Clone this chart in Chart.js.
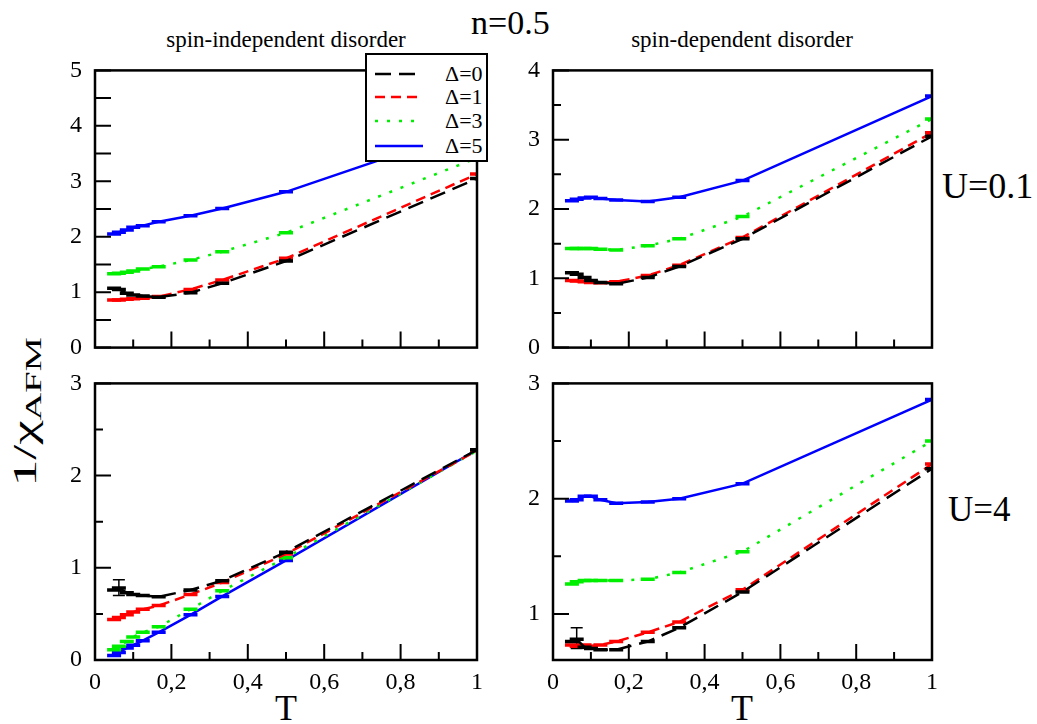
<!DOCTYPE html>
<html>
<head>
<meta charset="utf-8">
<script src="https://cdn.jsdelivr.net/npm/chart.js@4.4.1/dist/chart.umd.min.js"></script>
<style>
  body{margin:0;background:#fff;}
  #wrap{position:relative;width:1037px;height:724px;overflow:hidden;background:#fff;
        font-family:"Liberation Serif","DejaVu Serif",serif;color:#000;}
  canvas{position:absolute;}
  .txt{position:absolute;white-space:nowrap;line-height:1;}
  .ctr{text-align:center;width:400px;}
  #legend{position:absolute;left:365px;top:53px;width:119px;height:105px;border:2px solid #000;background:#fff;z-index:5;}
  #legend .row{position:absolute;left:0;height:22px;width:119px;}
  #legend svg{position:absolute;left:8px;top:0;}
  #legend span{position:absolute;left:78px;top:0;font-size:22px;line-height:22px;}
  #ytitle{position:absolute;left:26px;top:412px;font-size:34px;line-height:1;white-space:nowrap;
          transform:translate(-50%,-50%) rotate(-90deg) scaleX(1.6);}
  #ytitle sub{font-size:24px;vertical-align:-5px;}
</style>
</head>
<body>
<div id="wrap">
  <div class="txt" style="left:471px;top:6px;font-size:34px;">n=0.5</div>
  <div class="txt ctr" style="left:86px;top:28px;font-size:23px;">spin-independent disorder</div>
  <div class="txt ctr" style="left:542px;top:28px;font-size:23px;">spin-dependent disorder</div>
  <div class="txt" style="left:942px;top:168px;font-size:36px;">U=0.1</div>
  <div class="txt" style="left:948px;top:492px;font-size:35px;">U=4</div>
  <div class="txt ctr" style="left:86px;top:690px;font-size:36px;">T</div>
  <div class="txt ctr" style="left:542px;top:690px;font-size:36px;">T</div>
  <div id="ytitle">1/χ<sub>AFM</sub></div>
  <div id="legend"></div>
  <canvas id="cTL"></canvas>
  <canvas id="cTR"></canvas>
  <canvas id="cBL"></canvas>
  <canvas id="cBR"></canvas>
</div>
<script>
/* ---------- data ---------- */
const T = [0.05, 0.0625, 0.0833, 0.1, 0.125, 0.1667, 0.25, 0.333, 0.5, 1.0];

// spin-independent disorder, U=0.1
const siU01_d0 = [1.07, 1.05, 0.98, 0.95, 0.93, 0.91, 0.99, 1.16, 1.56, 3.05];
const siU01_d1 = [0.86, 0.86, 0.87, 0.88, 0.89, 0.92, 1.05, 1.22, 1.61, 3.13];
const siU01_d3 = [1.33, 1.34, 1.36, 1.38, 1.42, 1.46, 1.58, 1.73, 2.07, 3.42];
const siU01_d5 = [2.05, 2.08, 2.12, 2.17, 2.20, 2.27, 2.38, 2.51, 2.81, 3.98];

// spin-dependent disorder, U=0.1
const sdU01_d0 = [1.08, 1.06, 1.01, 0.97, 0.94, 0.92, 1.01, 1.17, 1.57, 3.05];
const sdU01_d1 = [0.97, 0.96, 0.95, 0.94, 0.935, 0.95, 1.04, 1.19, 1.59, 3.10];
const sdU01_d3 = [1.43, 1.43, 1.43, 1.43, 1.42, 1.41, 1.47, 1.57, 1.89, 3.30];
const sdU01_d5 = [2.12, 2.14, 2.16, 2.17, 2.15, 2.13, 2.11, 2.17, 2.41, 3.63];

// spin-independent disorder, U=4
const siU4_d0 = [0.76, 0.78, 0.73, 0.71, 0.70, 0.685, 0.76, 0.86, 1.17, 2.28];
const siU4_d1 = [0.44, 0.46, 0.49, 0.52, 0.55, 0.59, 0.71, 0.84, 1.15, 2.27];
const siU4_d3 = [0.11, 0.15, 0.20, 0.25, 0.30, 0.36, 0.55, 0.75, 1.11, 2.27];
const siU4_d5 = [0.05, 0.08, 0.13, 0.16, 0.21, 0.30, 0.49, 0.69, 1.08, 2.28];

// spin-dependent disorder, U=4
const sdU4_d0 = [0.76, 0.78, 0.71, 0.70, 0.69, 0.69, 0.76, 0.88, 1.19, 2.26];
const sdU4_d1 = [0.73, 0.72, 0.73, 0.72, 0.73, 0.76, 0.84, 0.93, 1.21, 2.30];
const sdU4_d3 = [1.26, 1.28, 1.29, 1.29, 1.29, 1.29, 1.30, 1.36, 1.54, 2.50];
const sdU4_d5 = [1.98, 1.99, 2.02, 2.02, 1.99, 1.96, 1.97, 2.00, 2.13, 2.86];

// the one visible error bar per U=4 panel (Δ=0, T=1/16): [low, high]
const errBL = [0.70, 0.87];
const errBR = [0.70, 0.88];

const legendLabels = ['Δ=0', 'Δ=1', 'Δ=3', 'Δ=5'];

const xMajor = [0, 0.2, 0.4, 0.6, 0.8, 1];
const xMinor = [0.1, 0.3, 0.5, 0.7, 0.9];
const xTickLabels = ['0', '0,2', '0,4', '0,6', '0,8', '1'];

/* ---------- styles ---------- */
const FONT = '"Liberation Serif", "DejaVu Serif", serif';
const colors = ['#000000', '#ff0000', '#00ee00', '#0000ff'];
const dashes = [[16, 8], [10, 6], [3, 9], []];

/* ---------- legend (html) ---------- */
const rowTops = [8, 31, 55, 80];
const lg = document.getElementById('legend');
legendLabels.forEach((lab, i) => {
  const row = document.createElement('div');
  row.className = 'row';
  row.style.top = rowTops[i] + 'px';
  row.innerHTML = `<svg width="50" height="22"><line x1="0" y1="11" x2="48" y2="11" stroke="${colors[i]}"
     stroke-width="2.6" stroke-dasharray="${dashes[i].join(' ')}"/></svg><span>${lab}</span>`;
  lg.appendChild(row);
});

/* ---------- plugin: frame + inward ticks ---------- */
const frame = {
  id: 'frame',
  afterDatasetsDraw(chart, args, o) {
    const { ctx, chartArea: a, scales: { x, y } } = chart;
    ctx.save();
    ctx.strokeStyle = '#000';
    ctx.lineWidth = 2;
    ctx.beginPath();
    xMajor.forEach(v => { const p = x.getPixelForValue(v); ctx.moveTo(p, a.bottom); ctx.lineTo(p, a.bottom - 16); });
    xMinor.forEach(v => { const p = x.getPixelForValue(v); ctx.moveTo(p, a.bottom); ctx.lineTo(p, a.bottom - 8); });
    o.yMajor.forEach(v => { const p = y.getPixelForValue(v); ctx.moveTo(a.left, p); ctx.lineTo(a.left + 16, p); });
    o.yMinor.forEach(v => { const p = y.getPixelForValue(v); ctx.moveTo(a.left, p); ctx.lineTo(a.left + o.minorLen, p); });
    ctx.stroke();
    ctx.lineWidth = 2.5;
    ctx.strokeRect(a.left, a.top, a.right - a.left, a.bottom - a.top);
    ctx.restore();
  }
};

/* ---------- panels ---------- */
function makeSets(series, err) {
  const sets = series.map((s, i) => ({
    data: T.map((t, k) => ({ x: t, y: s[k] })),
    borderColor: colors[i],
    borderDash: dashes[i],
    borderWidth: 2.5,
    pointStyle: 'line',
    pointRadius: 7,
    pointBorderWidth: 3.5,
    pointBorderColor: colors[i],
    tension: 0,
    fill: false
  }));
  if (err) {
    sets.push({
      data: err.map(v => ({ x: T[1], y: v })),
      borderColor: '#000', borderWidth: 1.5,
      pointStyle: 'line', pointRadius: 6, pointBorderWidth: 1.5, pointBorderColor: '#000'
    });
  }
  return sets;
}

function panel(id, area, ymin, ymax, yMajor, yMinor, yLabels, showX, minorLen, series, err) {
  const cv = document.getElementById(id);
  const aw = area[2] - area[0], ah = area[3] - area[1];
  const padL = 50, padT = 15, padR = 15, xH = showX ? 45 : 12;

  const cfg = () => ({
    type: 'line',
    data: { datasets: makeSets(series, err) },
    options: {
      responsive: false, maintainAspectRatio: false, animation: false, events: [],
      layout: { padding: { top: padT, right: padR, left: 0, bottom: 0 } },
      plugins: { legend: { display: false }, tooltip: { enabled: false },
                 frame: { yMajor, yMinor, minorLen } },
      scales: {
        x: {
          type: 'linear', min: 0, max: 1,
          grid: { display: false }, border: { display: false },
          afterBuildTicks: s => { s.ticks = xMajor.map(v => ({ value: v })); },
          ticks: { display: showX, padding: 0, color: '#000', font: { family: FONT, size: 24 },
                   maxRotation: 0, autoSkip: false, callback: (v, i) => xTickLabels[i] },
          afterFit: s => { s.height = xH; }
        },
        y: {
          type: 'linear', min: ymin, max: ymax,
          grid: { display: false }, border: { display: false },
          afterBuildTicks: s => { s.ticks = yMajor.map(v => ({ value: v })); },
          ticks: { padding: 5, color: '#000', font: { family: FONT, size: 24 },
                   autoSkip: false, callback: (v, i) => yLabels[i] },
          afterFit: s => { s.width = padL; }
        }
      }
    },
    plugins: [frame]
  });

  // first pass: see where Chart.js puts the plot area, then resize so it lands on `area`
  cv.width = aw + padL + padR;
  cv.height = ah + padT + xH;
  const probe = new Chart(cv, cfg());
  const ca = probe.chartArea;
  const w = cv.width + aw - (ca.right - ca.left);
  const h = cv.height + ah - (ca.bottom - ca.top);
  const offL = ca.left, offT = ca.top;
  probe.destroy();

  cv.width = w;
  cv.height = h;
  cv.style.left = (area[0] - offL) + 'px';
  cv.style.top = (area[1] - offT) + 'px';
  new Chart(cv, cfg());
}

panel('cTL', [95, 70, 477, 348], 0, 5, [0, 1, 2, 3, 4, 5], [0.5, 1.5, 2.5, 3.5, 4.5],
      ['0', '1', '2', '3', '4', '5'], false, 16, [siU01_d0, siU01_d1, siU01_d3, siU01_d5]);
panel('cTR', [553, 70, 932, 348], 0, 4, [0, 1, 2, 3, 4], [0.5, 1.5, 2.5, 3.5],
      ['0', '1', '2', '3', '4'], false, 8, [sdU01_d0, sdU01_d1, sdU01_d3, sdU01_d5]);
panel('cBL', [95, 383, 477, 660], 0, 3, [0, 1, 2, 3], [0.5, 1.5, 2.5],
      ['0', '1', '2', '3'], true, 8, [siU4_d0, siU4_d1, siU4_d3, siU4_d5], errBL);
panel('cBR', [553, 383, 932, 660], 0.6, 3, [1, 2, 3], [1.5, 2.5],
      ['1', '2', '3'], true, 8, [sdU4_d0, sdU4_d1, sdU4_d3, sdU4_d5], errBR);
</script>
</body>
</html>
